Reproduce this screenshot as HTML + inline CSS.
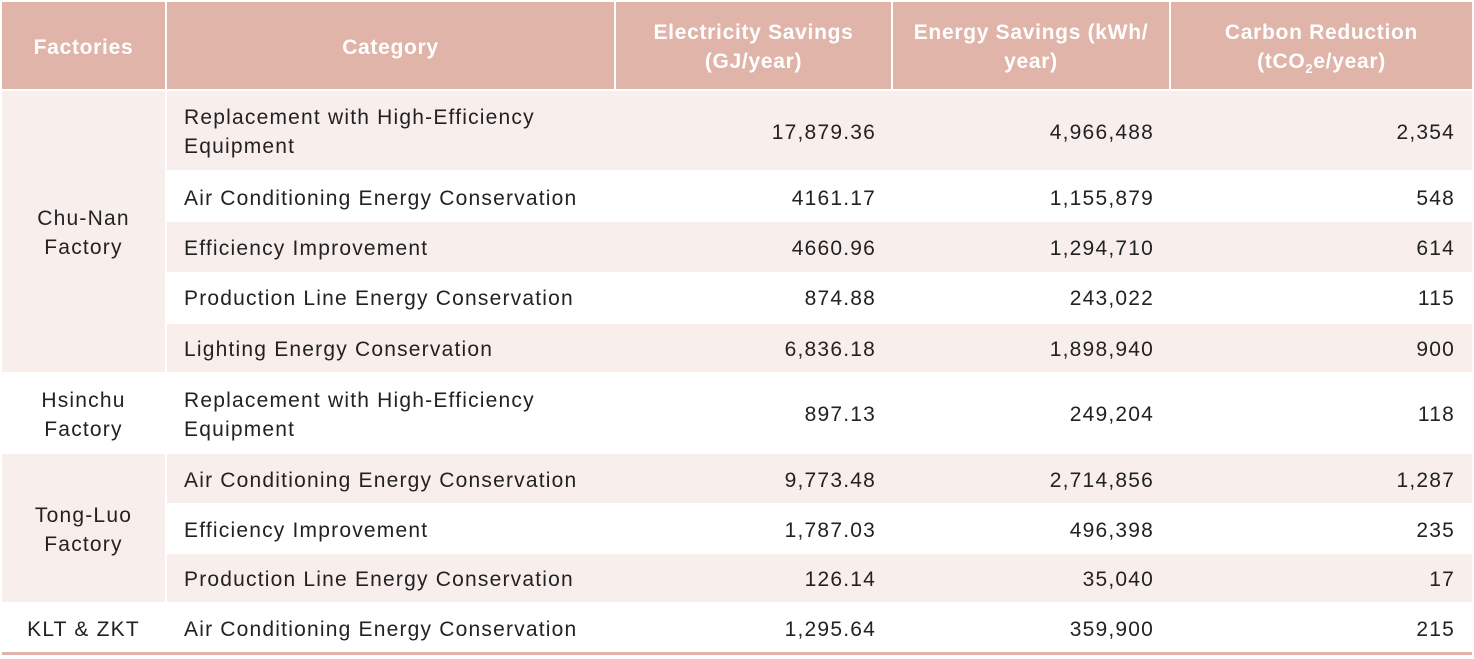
<!DOCTYPE html><html><head><style>
body{margin:0;width:1474px;height:659px;background:#fff;font-family:"Liberation Sans",sans-serif;position:relative;overflow:hidden}
div{position:absolute;box-sizing:border-box}
.h{background:#e0b4a8;color:#fff;font-weight:bold;font-size:21px;letter-spacing:0.7px;display:flex;align-items:center;justify-content:center;text-align:center;line-height:29px;top:2px;height:87px;padding-top:3px}
.p{background:#f8efec}
.c{display:flex;align-items:center;font-size:21px;letter-spacing:1.2px;color:#222;line-height:29px;padding-top:3px}
.l{padding-left:17px}
.r{justify-content:flex-end;padding-right:17px}
.m{justify-content:center;text-align:center}
</style></head><body>
<div class="h" style="left:2px;width:163px">Factories</div>
<div class="h" style="left:167px;width:447px">Category</div>
<div class="h" style="left:616px;width:275px"><span>Electricity Savings<br>(GJ/year)</span></div>
<div class="h" style="left:893px;width:276px"><span>Energy Savings (kWh/<br>year)</span></div>
<div class="h" style="left:1171px;width:301px"><span>Carbon Reduction<br>(tCO<sub style="font-size:13px;line-height:0">2</sub>e/year)</span></div>

<div class="c m p" style="left:2px;top:91px;width:163px;height:281px"><span>Chu-Nan<br>Factory</span></div>
<div class="c m" style="left:2px;top:372px;width:163px;height:82px"><span>Hsinchu<br>Factory</span></div>
<div class="c m p" style="left:2px;top:454px;width:163px;height:148px"><span>Tong-Luo<br>Factory</span></div>
<div class="c m" style="left:2px;top:604px;width:163px;height:48px">KLT &amp; ZKT</div>

<div id="rows"></div>
<div style="left:2px;top:652px;width:1470px;height:3px;background:#e0b4a8"></div>
<script>
var rows=[
[91,79,1,"Replacement with High-Efficiency<br>Equipment","17,879.36","4,966,488","2,354"],
[172,50,0,"Air Conditioning Energy Conservation","4161.17","1,155,879","548"],
[222,50,1,"Efficiency Improvement","4660.96","1,294,710","614"],
[272,50,0,"Production Line Energy Conservation","874.88","243,022","115"],
[324,48,1,"Lighting Energy Conservation","6,836.18","1,898,940","900"],
[372,82,0,"Replacement with High-Efficiency<br>Equipment","897.13","249,204","118"],
[454,49,1,"Air Conditioning Energy Conservation","9,773.48","2,714,856","1,287"],
[503,51,0,"Efficiency Improvement","1,787.03","496,398","235"],
[554,48,1,"Production Line Energy Conservation","126.14","35,040","17"],
[604,48,0,"Air Conditioning Energy Conservation","1,295.64","359,900","215"]];
var h="";
rows.forEach(function(r){
var st="top:"+r[0]+"px;height:"+r[1]+"px;";
var cl=r[2]?" p":"";
h+='<div class="c l'+cl+'" style="left:167px;width:449px;'+st+'"><span>'+r[3]+'</span></div>';
h+='<div class="c r'+cl+'" style="left:616px;width:277px;'+st+'">'+r[4]+'</div>';
h+='<div class="c r'+cl+'" style="left:893px;width:278px;'+st+'">'+r[5]+'</div>';
h+='<div class="c r'+cl+'" style="left:1171px;width:301px;'+st+'">'+r[6]+'</div>';
});
document.getElementById("rows").outerHTML=h;
</script>
</body></html>
